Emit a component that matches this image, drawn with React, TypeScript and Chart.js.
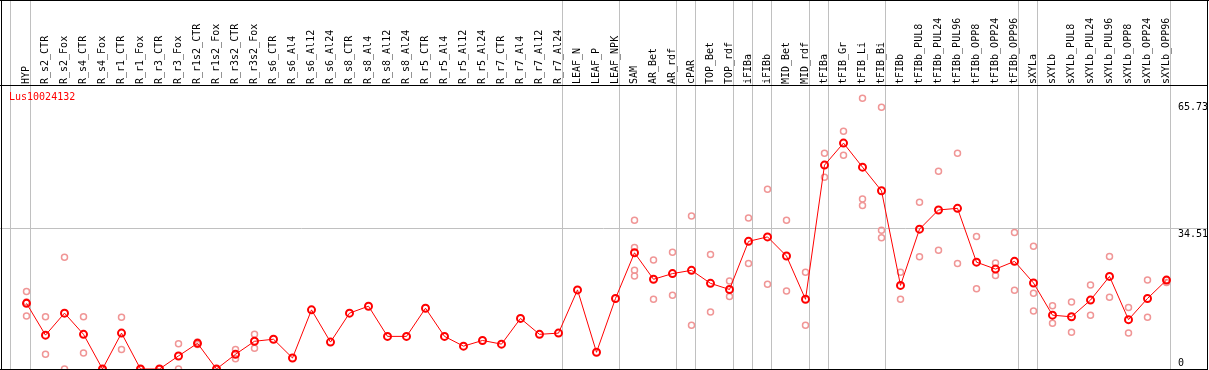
import React, { useEffect, useRef } from "react";
import { Chart, registerables } from "chart.js";

Chart.register(...registerables);

const title = "Lus10024132";

const categories = [
  "HYP", "R_s2_CTR", "R_s2_Fox", "R_s4_CTR", "R_s4_Fox", "R_r1_CTR", "R_r1_Fox",
  "R_r3_CTR", "R_r3_Fox", "R_r1s2_CTR", "R_r1s2_Fox", "R_r3s2_CTR", "R_r3s2_Fox",
  "R_s6_CTR", "R_s6_Al4", "R_s6_Al12", "R_s6_Al24", "R_s8_CTR", "R_s8_Al4",
  "R_s8_Al12", "R_s8_Al24", "R_r5_CTR", "R_r5_Al4", "R_r5_Al12", "R_r5_Al24",
  "R_r7_CTR", "R_r7_Al4", "R_r7_Al12", "R_r7_Al24", "LEAF_N", "LEAF_P", "LEAF_NPK",
  "SAM", "AR_Bet", "AR_rdf", "cPAR", "TOP_Bet", "TOP_rdf", "iFIBa", "iFIBb",
  "MID_Bet", "MID_rdf", "tFIBa", "tFIB_Gr", "tFIB_Li", "tFIB_Bi", "tFIBb",
  "tFIBb_PUL8", "tFIBb_PUL24", "tFIBb_PUL96", "tFIBb_OPP8", "tFIBb_OPP24", "tFIBb_OPP96",
  "sXYLa", "sXYLb", "sXYLb_PUL8", "sXYLb_PUL24", "sXYLb_PUL96", "sXYLb_OPP8",
  "sXYLb_OPP24", "sXYLb_OPP96",
];

const meanValues = [
  16.1, 8.3, 13.7, 8.5, 0, 8.8, 0, 0, 3.2, 6.3, 0, 3.6, 6.8,
  7.3, 2.7, 14.5, 6.6, 13.7, 15.4, 8.0, 8.0, 14.9, 8.0, 5.6, 7.0,
  6.1, 12.4, 8.5, 8.8, 19.4, 4.1, 17.3,
  28.5, 22.0, 23.4, 24.2, 21.0, 19.5, 31.3, 32.4, 27.7, 17.1,
  50.0, 55.4, 49.5, 43.7, 20.5, 34.3, 39.0, 39.4, 26.2, 24.5, 26.4,
  21.1, 13.2, 12.8, 16.9, 22.7, 12.1, 17.3, 21.8,
];

const replicateValues: number[][] = [
  [19.0, 16.4, 13.0], [12.8, 3.6], [27.4, 0], [12.8, 3.9], [0, 0], [12.7, 4.8], [0, 0],
  [0, 0], [6.2, 0], [6.6, 6.0], [0, 0], [4.8, 2.5], [8.5, 5.1],
  [], [], [], [], [], [], [], [], [], [], [], [],
  [], [], [], [], [], [], [],
  [36.5, 29.8, 24.2, 22.8], [26.7, 17.1], [28.6, 18.1], [37.5, 10.7], [28.1, 14.0],
  [21.6, 17.8], [37.0, 25.9], [44.1, 20.8], [36.5, 19.1], [23.7, 10.7],
  [52.9, 47.0], [58.3, 52.4], [66.4, 41.7, 40.1], [64.2, 34.0, 32.2], [23.7, 17.1],
  [40.9, 27.5], [48.5, 29.1], [52.9, 25.9], [32.5, 19.7], [26.0, 22.9], [33.5, 19.3],
  [30.1, 18.6, 14.2], [15.5, 11.2], [16.4, 9.0], [20.6, 13.2], [27.6, 17.6],
  [15.1, 8.8], [21.8, 12.7], [21.8, 21.2],
];

const yTickLabels = ["0", "34.51", "65.73"];
const yTickValues = [0, 34.51, 65.73];
const yGridValues = [34.51];
const yMax = 69.4;

// group separators, in category-index units (after the listed category)
const separatorIndices = [-1, 0, 28, 31, 34, 35, 37, 38, 39, 41, 42, 45, 52, 53, 60];

const FONT = '10px "DejaVu Sans Mono", monospace';

const decorPlugin = {
  id: "decor",
  beforeDatasetsDraw(chart: any) {
    const ctx = chart.ctx;
    const xs = chart.scales.x;
    const ys = chart.scales.y;
    const W = chart.width;
    const H = chart.height;
    ctx.save();
    ctx.strokeStyle = "#c0c0c0";
    ctx.lineWidth = 1;
    for (const s of separatorIndices) {
      const v = s === -1 ? -0.842 : s + 0.21;
      const px = Math.floor(xs.getPixelForValue(v)) + 0.5;
      ctx.beginPath();
      ctx.moveTo(px, 0);
      ctx.lineTo(px, H);
      ctx.stroke();
    }
    for (const g of yGridValues) {
      const py = Math.floor(ys.getPixelForValue(g)) + 0.5;
      ctx.beginPath();
      ctx.moveTo(0, py);
      ctx.lineTo(W - 2, py);
      ctx.stroke();
    }
    ctx.restore();
  },
  afterDraw(chart: any) {
    const ctx = chart.ctx;
    const xs = chart.scales.x;
    const ys = chart.scales.y;
    const W = chart.width;
    const H = chart.height;
    ctx.save();
    // borders
    ctx.fillStyle = "#000";
    ctx.fillRect(0, 0, W, 1);
    ctx.fillRect(1, 0, 1, H);
    ctx.fillRect(W - 2, 0, 1, H);
    ctx.fillRect(0, 85, W - 1, 1);
    ctx.fillRect(0, H - 1, W - 1, 1);
    // header labels
    ctx.font = FONT;
    ctx.fillStyle = "#000";
    ctx.textAlign = "left";
    ctx.textBaseline = "alphabetic";
    categories.forEach((c, i) => {
      const px = xs.getPixelForValue(i);
      ctx.save();
      ctx.translate(px + 2.5, 84);
      ctx.rotate(-Math.PI / 2);
      ctx.fillText(c, 0, 0);
      ctx.restore();
    });
    // title
    ctx.fillStyle = "#ff0000";
    ctx.fillText(title, 9, 100);
    // y tick labels
    ctx.fillStyle = "#000";
    yTickValues.forEach((v, i) => {
      const py = ys.getPixelForValue(v);
      const by = v === 0 ? py - 3 : py + 9;
      ctx.fillText(yTickLabels[i], 1178, by);
    });
    ctx.restore();
  },
};

export default function App() {
  const canvasRef = useRef<HTMLCanvasElement | null>(null);

  useEffect(() => {
    document.body.style.margin = "0";
    const canvas = canvasRef.current;
    if (!canvas) return;
    const meanData = meanValues.map((v, i) => ({ x: i, y: v }));
    const repData: { x: number; y: number }[] = [];
    replicateValues.forEach((arr, i) => arr.forEach((v) => repData.push({ x: i, y: v })));
    const xMin = -25.5 / 19;
    const xMax = xMin + 1206 / 19;
    const chart = new Chart(canvas, {
      type: "line",
      data: {
        datasets: [
          {
            label: "mean",
            data: meanData,
            borderColor: "#ff0000",
            borderWidth: 1,
            pointRadius: 3.5,
            pointBorderWidth: 2,
            pointBorderColor: "#ff0000",
            pointBackgroundColor: "rgba(0,0,0,0)",
            tension: 0,
            order: 0,
          },
          {
            label: "replicates",
            data: repData,
            showLine: false,
            pointRadius: 3,
            pointBorderWidth: 1.5,
            pointBorderColor: "rgb(240,150,150)",
            pointBackgroundColor: "rgba(0,0,0,0)",
            order: 1,
          },
        ],
      },
      options: {
        responsive: false,
        animation: false,
        devicePixelRatio: 1,
        layout: { autoPadding: false, padding: { left: 1, right: 2, top: 86, bottom: 1 } },
        plugins: { legend: { display: false }, tooltip: { enabled: false } },
        scales: {
          x: { type: "linear", min: xMin, max: xMax, display: false },
          y: { type: "linear", min: 0, max: yMax, display: false },
        },
      },
      plugins: [decorPlugin],
    });
    return () => chart.destroy();
  }, []);

  return (
    <div style={{ position: "absolute", left: 0, top: 0, width: 1209, height: 370 }}>
      <canvas ref={canvasRef} width={1209} height={370} />
    </div>
  );
}
